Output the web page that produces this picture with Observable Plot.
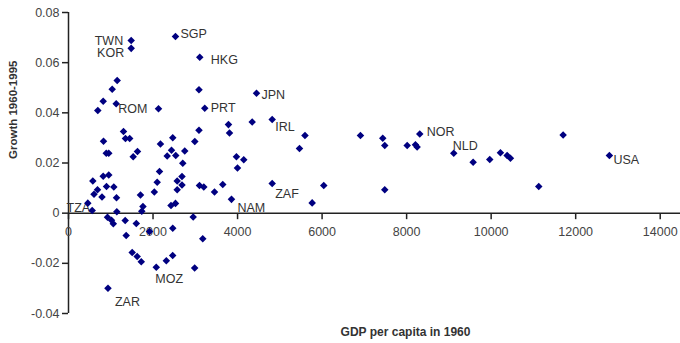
<!DOCTYPE html>
<html>
<head>
<meta charset="utf-8">
<script src="https://cdn.jsdelivr.net/npm/d3@7"></script>
<script src="https://cdn.jsdelivr.net/npm/@observablehq/plot@0.6"></script>
<style>
  html, body { margin: 0; padding: 0; background: #fff; }
  #chart { width: 680px; height: 343px; }
</style>
</head>
<body>
<div id="chart"></div>
<script>
// ---- Data ----
const country = ["TWN","KOR","SGP","HKG","ROM","PRT","JPN","IRL","NOR","NLD","USA","ZAF","NAM","MOZ","ZAR","TZA"];
const gdp1960 = [1483,1483,2531,3106,1128,3224,4448,4819,8311,9115,12798,4819,3856,2077,934,561,
  3087,3087,1152,1034,821,693,2129,1301,1348,1448,828,894,953,1531,1632,2176,2467,2335,2437,2538,2751,2704,2988,
  3785,3809,3974,4147,3998,4346,5595,5465,6908,7435,7483,8013,8209,8249,9574,9967,10220,10378,10456,11703,
  11126,7483,6040,5765,3650,3454,3099,3201,2950,3177,2985,2685,2572,2685,2572,2153,2098,2030,2425,2531,2467,
  1916,1703,1762,1734,1604,1341,1365,923,1017,1060,1507,1625,1722,2314,2465,1143,1136,1072,899,793,603,686,575,821,953,457];
const growth = [0.0688,0.0657,0.0704,0.0622,0.0436,0.0418,0.0478,0.0373,0.0316,0.0239,0.0230,0.0118,0.0055,-0.0216,-0.0299,0.0011,
  0.0492,0.0331,0.0529,0.0494,0.0446,0.0409,0.0416,0.0326,0.0298,0.0298,0.0287,0.0239,0.0239,0.0225,0.0246,0.0276,0.0301,0.0228,0.0251,0.0230,0.0248,0.0199,0.0286,
  0.0353,0.0320,0.0225,0.0213,0.0180,0.0363,0.0310,0.0258,0.0310,0.0299,0.0270,0.0270,0.0273,0.0264,0.0203,0.0214,0.0241,0.0230,0.0219,0.0312,
  0.0106,0.0093,0.0110,0.0041,0.0114,0.0084,0.0110,0.0104,-0.0015,-0.0102,-0.0219,0.0146,0.0128,0.0112,0.0093,0.0166,0.0123,0.0084,0.0031,0.0039,-0.0060,
  -0.0073,0.0072,0.0027,0.0008,-0.0041,-0.0029,-0.0089,-0.0016,-0.0028,-0.0042,-0.0157,-0.0173,-0.0194,-0.0190,-0.0169,0.0006,0.0061,0.0104,0.0106,0.0064,0.0075,0.0093,0.0128,0.0147,0.0152,0.0040];
const xTicks = [0,2000,4000,6000,8000,10000,12000,14000];
const yTicks = [-0.04,-0.02,0,0.02,0.04,0.06,0.08];
const xTitle = "GDP per capita in 1960";
const yTitle = "Growth 1960-1995";

// ---- Placement of the country labels (style, not data) ----
const labelLayout = {
  TWN:{dx:-8,dy:0,a:"end"}, KOR:{dx:-7,dy:5,a:"end"}, SGP:{dx:5,dy:-3,a:"start"}, HKG:{dx:11,dy:3,a:"start"},
  ROM:{dx:2,dy:5,a:"start"}, PRT:{dx:6,dy:0,a:"start"}, JPN:{dx:5,dy:2,a:"start"}, IRL:{dx:3,dy:7,a:"start"},
  NOR:{dx:7,dy:-2,a:"start"}, NLD:{dx:-1,dy:-7,a:"start"}, USA:{dx:4,dy:5,a:"start"}, ZAF:{dx:3,dy:10,a:"start"},
  NAM:{dx:6,dy:9,a:"start"}, MOZ:{dx:-1,dy:12,a:"start"}, ZAR:{dx:7,dy:14,a:"start"}, TZA:{dx:-2,dy:-2,a:"end"}
};

const points = gdp1960.map((g, i) => ({gdp: g, growth: growth[i], code: country[i] || ""}));
const labelled = points.filter(d => d.code);

const fmtY = d => d === 0 ? "0" : d.toFixed(2);
const tickSymbol = { draw(ctx) { ctx.moveTo(0, 0); ctx.lineTo(0, 6); } };

const labelTexts = labelled.map(d => Plot.text([d], {
  x: "gdp", y: "growth", text: "code",
  dx: labelLayout[d.code].dx, dy: labelLayout[d.code].dy,
  textAnchor: labelLayout[d.code].a, fill: "#333", fontSize: 12.5
}));

const chart = Plot.plot({
  width: 680, height: 343,
  marginLeft: 68, marginRight: 0, marginTop: 12, marginBottom: 30,
  style: { fontFamily: "'Liberation Sans', Arial, sans-serif", fontSize: "12.5px", color: "#222", background: "#fff", overflow: "visible" },
  x: { domain: [0, 14480], axis: null },
  y: { domain: [-0.04, 0.08], axis: null },
  marks: [
    Plot.ruleY([0], { stroke: "#222", strokeWidth: 1.5 }),
    Plot.ruleX([0], { stroke: "#222", strokeWidth: 1.5 }),
    Plot.axisY({ ticks: yTicks, tickSize: 6, tickPadding: 3, tickFormat: fmtY, label: null, fontSize: 12.5, strokeWidth: 1.5, fill: "#444" }),
    Plot.dot(xTicks, { x: d => d, y: () => 0, symbol: tickSymbol, stroke: "#222", fill: "none", strokeWidth: 1.5, r: 3 }),
    Plot.text(xTicks, { x: d => d, y: () => 0, text: d => String(d), dy: 19, fill: "#444", fontSize: 12.5 }),
    ...labelTexts,
    Plot.dot(points, { x: "gdp", y: "growth", symbol: "square", rotate: 45, r: 3, fill: "#000080", stroke: "none" }),
    Plot.text([yTitle], { frameAnchor: "left", text: d => d, rotate: -90, dx: -55, dy: -4, fontWeight: "bold", fontSize: 11.5, fill: "#333" }),
    Plot.text([xTitle], { frameAnchor: "bottom", text: d => d, dx: 31, dy: 22, fontWeight: "bold", fontSize: 12, fill: "#333" })
  ]
});
document.getElementById("chart").appendChild(chart);
</script>
</body>
</html>
